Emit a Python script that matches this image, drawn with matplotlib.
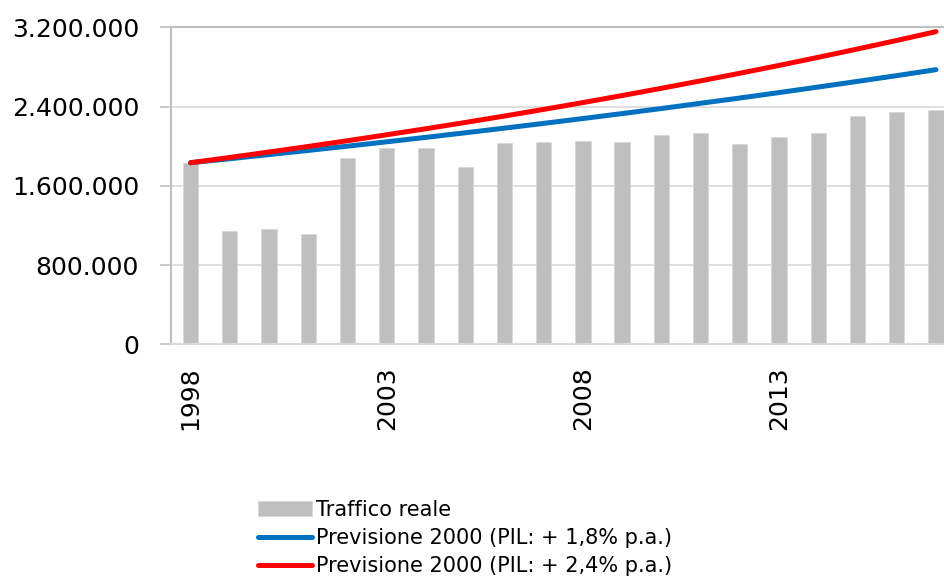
import matplotlib
matplotlib.use("Agg")
import matplotlib.pyplot as plt
import numpy as np

# --------------------------
# Data
# --------------------------
years = list(range(1998, 2018))
traffico = [1830000, 1147000, 1161000, 1114000, 1884000, 1985000, 1978000,
            1787000, 2029000, 2042000, 2049000, 2042000, 2110000, 2130000,
            2022000, 2096000, 2133000, 2305000, 2342000, 2365000]
prev_18 = [1833000, 1873000, 1915000, 1957000, 2000000, 2044000, 2089000,
           2135000, 2182000, 2230000, 2279000, 2329000, 2380000, 2433000,
           2486000, 2541000, 2597000, 2654000, 2712000, 2772000]
prev_24 = [1833000, 1886000, 1941000, 1997000, 2055000, 2115000, 2176000,
           2239000, 2304000, 2371000, 2440000, 2511000, 2584000, 2659000,
           2736000, 2815000, 2897000, 2981000, 3067000, 3156000]
y_ticks = [0, 800000, 1600000, 2400000, 3200000]
label_years = [1998, 2003, 2008, 2013]

labels = ["Traffico reale",
          "Previsione 2000 (PIL: + 1,8% p.a.)",
          "Previsione 2000 (PIL: + 2,4% p.a.)"]

plt.rcParams['font.family'] = ['DejaVu Sans']

fig = plt.figure(figsize=(9.44, 5.76), dpi=100)
ax = fig.add_axes([0.1811, 0.4023, 0.8311, 0.5503])

x = np.arange(len(years))
bars = ax.bar(x, traffico, width=0.39, color='#BFBFBF', edgecolor='#D9D9D9',
              linewidth=0.6, zorder=2, label=labels[0])
l1, = ax.plot(x, prev_18, color='#0070C0', lw=3.6, solid_capstyle='round',
              zorder=3, label=labels[1])
l2, = ax.plot(x, prev_24, color='#FF0000', lw=3.6, solid_capstyle='round',
              zorder=4, label=labels[2])

ax.set_xlim(-0.5, len(years) - 0.5)
ax.set_ylim(0, 3200000)

ax.set_yticks(y_ticks)
ax.set_yticklabels([f"{v:,}".replace(",", ".") for v in y_ticks])
ax.set_xticks([years.index(y) for y in label_years])
ax.set_xticklabels([str(y) for y in label_years], rotation=90)

ax.tick_params(axis='y', length=8, width=1.2, color='#BFBFBF', pad=15,
               labelsize=18)
ax.tick_params(axis='x', length=0, pad=16, labelsize=18)

ax.grid(axis='y', color='#D9D9D9', lw=1.2, zorder=0)
ax.set_axisbelow(True)
ax.spines['right'].set_visible(False)
ax.spines['left'].set_color('#BFBFBF')
ax.spines['left'].set_linewidth(1.5)
ax.spines['top'].set_color('#BFBFBF')
ax.spines['top'].set_linewidth(1.5)
ax.spines['bottom'].set_color('#D9D9D9')
ax.spines['bottom'].set_linewidth(1.5)

fig.legend([bars, l1, l2], labels, loc='upper left',
           bbox_to_anchor=(258 / 944, 1 - 500 / 576),
           frameon=False, fontsize=15, handlelength=2.6, handletextpad=0.2,
           labelspacing=0.38, borderpad=0, borderaxespad=0)

plt.savefig("out.png", dpi=100)
